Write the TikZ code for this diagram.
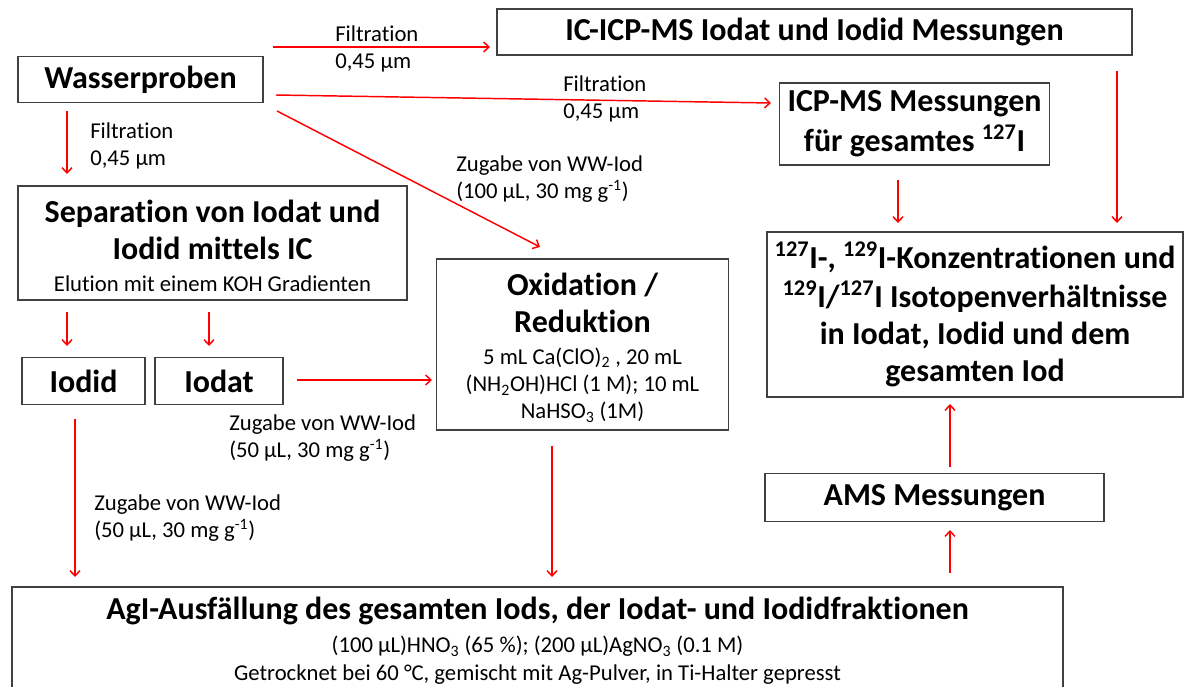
\documentclass[tikz,border=0pt]{standalone}
\usepackage{fontspec}
\setmainfont{Carlito}[Ligatures=CommonOff]
\usetikzlibrary{arrows.meta}
\newcommand{\sm}{\mdseries\fontsize{17}{20.5}\selectfont}
\begin{document}
\begin{tikzpicture}[x=0.75pt,y=-0.75pt,
  box/.style={draw=black!75,line width=1pt,rectangle,inner sep=0pt,align=center,
    font=\fontsize{24}{28}\selectfont\bfseries},
  wh/.style 2 args={minimum width=#1*0.75pt,minimum height=#2*0.75pt},
  arr/.style={draw=red,line width=1.1pt,-{Straight Barb[length=4pt,width=7.5pt]}},
  lbl/.style={anchor=base west,inner sep=0pt,align=left,font=\fontsize{17}{20.5}\selectfont}]
\useasboundingbox (0,0) rectangle (1185,686);
\clip (0,0) rectangle (1185,686);

% boxes
\node[box,wh={245}{46}] (wasser) at (140.5,79.5) {Wasserproben};
\node[box,wh={635}{46}] (icms) at (814.5,32) {IC-ICP-MS Iodat und Iodid Messungen};
\node[box,wh={270}{82}] (icpms) at (914.5,124) {ICP-MS Messungen\\[2pt] für gesamtes \textsuperscript{127}I};
\node[box,wh={389}{114}] (sep) at (212.5,243) {\rule{0pt}{21pt}Separation von Iodat und\\ Iodid mittels IC\\[-4.5pt] {\sm Elution mit einem KOH Gradienten}};
\node[box,wh={292}{171}] (oxi) at (582.5,344.5) {\rule{0pt}{21.5pt}Oxidation /\\ Reduktion\\[-4.25pt]
  {\sm 5 mL Ca(ClO)\textsubscript{2} , 20 mL}\\[-7.5pt]
  {\sm (NH\textsubscript{2}OH)HCl (1 M); 10 mL}\\[-7.5pt]
  {\sm NaHSO\textsubscript{3} (1M)}};
\node[box,wh={416}{165}] (res) at (975,314.5) {\textsuperscript{127}I-, \textsuperscript{129}I-Konzentrationen und\\[1pt]
  \textsuperscript{129}I/\textsuperscript{127}I Isotopenverhältnisse\\ in Iodat, Iodid und dem\\ gesamten Iod};
\node[box,wh={123}{47}] (iodid) at (83.5,381) {Iodid};
\node[box,wh={128}{47}] (iodat) at (219,381) {Iodat};
\node[box,wh={339}{48}] (ams) at (934.5,497.5) {AMS Messungen};
\node[box,wh={1051}{108}] (agi) at (537.5,641) {AgI-Ausfällung des gesamten Iods, der Iodat- und Iodidfraktionen\\[-3pt]
  {\sm (100 µL)HNO\textsubscript{3} (65 \%); (200 µL)AgNO\textsubscript{3} (0.1 M)}\\[-7pt]
  {\sm Getrocknet bei 60 °C, gemischt mit Ag-Pulver, in Ti-Halter gepresst}};

% connector end points
\coordinate (a1s) at (273,47);  \coordinate (a1e) at (490,47);
\coordinate (a2s) at (276,95);  \coordinate (a2e) at (771,103);
\coordinate (a3s) at (277,111); \coordinate (a3e) at (540,247);
\coordinate (a4s) at (67,111);  \coordinate (a4e) at (67,174);
\coordinate (a5s) at (67,312);  \coordinate (a5e) at (67,346);
\coordinate (a6s) at (209,312); \coordinate (a6e) at (209,346);
\coordinate (a7s) at (297,380); \coordinate (a7e) at (432,380);
\coordinate (a8s) at (75,419);  \coordinate (a8e) at (75,577);
\coordinate (a9s) at (552,446); \coordinate (a9e) at (552,577);
\coordinate (a10s) at (950,573); \coordinate (a10e) at (950,530);
\coordinate (a11s) at (950,467); \coordinate (a11e) at (950,404);
\coordinate (a12s) at (898,180); \coordinate (a12e) at (898,223);
\coordinate (a13s) at (1117,71); \coordinate (a13e) at (1117,223);

\draw[arr] (a1s) -- (a1e);
\draw[arr] (a2s) -- (a2e);
\draw[arr] (a3s) -- (a3e);
\draw[arr] (a4s) -- (a4e);
\draw[arr] (a5s) -- (a5e);
\draw[arr] (a6s) -- (a6e);
\draw[arr] (a7s) -- (a7e);
\draw[arr] (a8s) -- (a8e);
\draw[arr] (a9s) -- (a9e);
\draw[arr] (a10s) -- (a10e);
\draw[arr] (a11s) -- (a11e);
\draw[arr] (a12s) -- (a12e);
\draw[arr] (a13s) -- (a13e);

% labels (anchored at the baseline of their last line)
\node[lbl] (l1) at (335,68.5) {Filtration\\0,45 µm};
\node[lbl] (l2) at (563,118.5) {Filtration\\0,45 µm};
\node[lbl] (l3) at (456,198.5) {Zugabe von WW-Iod\\(100 µL, 30 mg g\textsuperscript{-1})};
\node[lbl] (l4) at (90,165.5) {Filtration\\0,45 µm};
\node[lbl] (l5) at (229,457.5) {Zugabe von WW-Iod\\(50 µL, 30 mg g\textsuperscript{-1})};
\node[lbl] (l6) at (94,537.5) {Zugabe von WW-Iod\\(50 µL, 30 mg g\textsuperscript{-1})};
\end{tikzpicture}
\end{document}
